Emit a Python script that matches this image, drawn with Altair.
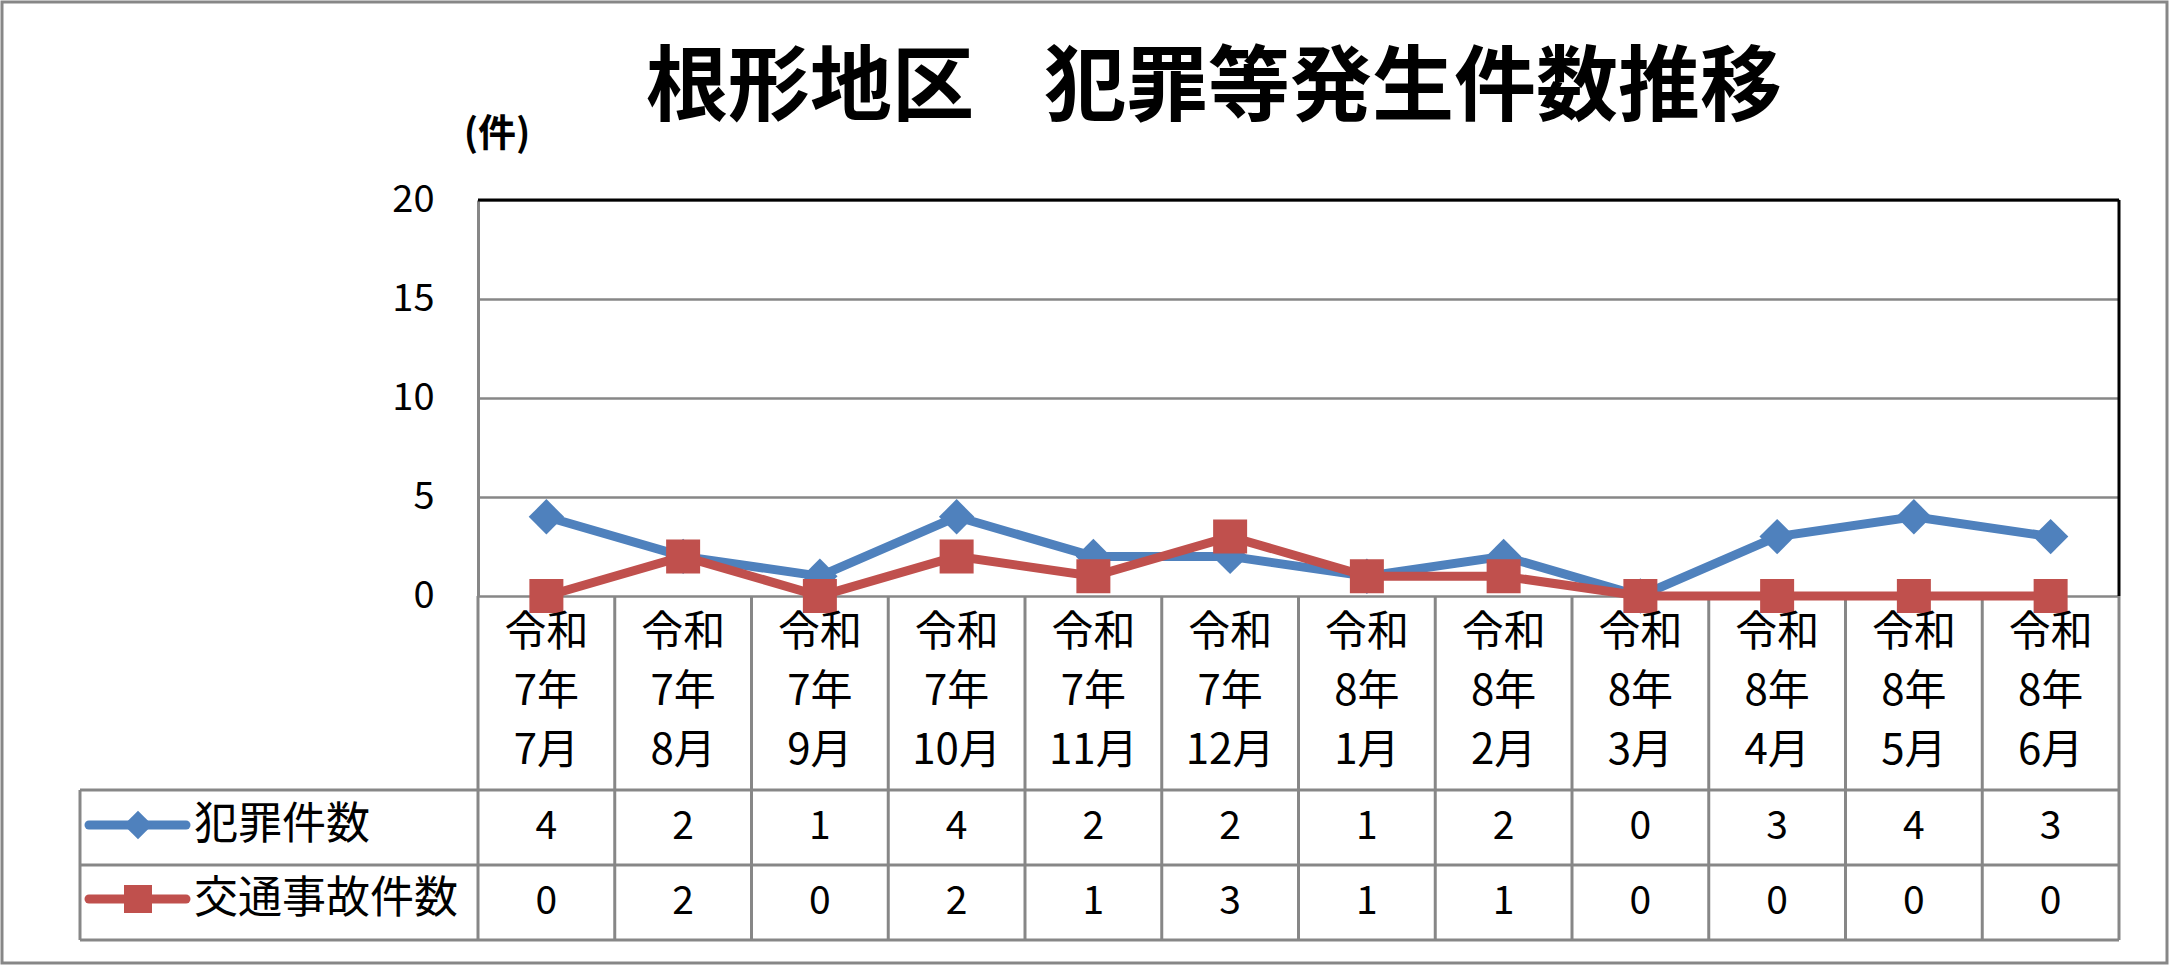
import altair as alt
import pandas as pd

# ---- data ----
categories = ["令和\n7年\n7月", "令和\n7年\n8月", "令和\n7年\n9月", "令和\n7年\n10月",
              "令和\n7年\n11月", "令和\n7年\n12月", "令和\n8年\n1月", "令和\n8年\n2月",
              "令和\n8年\n3月", "令和\n8年\n4月", "令和\n8年\n5月", "令和\n8年\n6月"]
crime = [4, 2, 1, 4, 2, 2, 1, 2, 0, 3, 4, 3]
traffic = [0, 2, 0, 2, 1, 3, 1, 1, 0, 0, 0, 0]
series_names = ["犯罪件数", "交通事故件数"]
series_colors = ["#4F81BD", "#C0504D"]
y_ticks = [0, 5, 10, 15, 20]
title_parts = ["根形地区", "犯罪等発生件数推移"]
unit_text = "(件)"

FONT = "Noto Sans CJK JP"
GRAY = "#878787"
W, H = 1641, 396
ROW1, ROW2, TBOT = 590, 665, 740

df = pd.DataFrame({"idx": list(range(len(categories))), "cat": categories,
                   "crime": crime, "traffic": traffic})
one = pd.DataFrame({"a": [0]})

xs = alt.Scale(domain=[-0.5, len(categories) - 0.5], nice=False, zero=False)
X = alt.X("idx:Q", scale=xs, axis=None)
ys = alt.Scale(domain=[0, 20], nice=False)

base = alt.Chart(df)

# y axis + grid (invisible carrier layer)
axis_layer = base.mark_point(opacity=0).encode(
    x=X,
    y=alt.Y("crime:Q", scale=ys,
            axis=alt.Axis(values=y_ticks, title=None, labelFontSize=38, labelFont=FONT,
                          labelColor="black", labelPadding=44, ticks=False,
                          domainColor=GRAY, domainWidth=3, gridColor=GRAY, gridWidth=2.5,
                          gridOpacity=1)),
)

# plot frame: top and right black
top_rule = alt.Chart(one).mark_rule(color="black", strokeWidth=3).encode(
    x=alt.value(0), x2=alt.value(W), y=alt.value(0))
right_rule = alt.Chart(one).mark_rule(color="black", strokeWidth=3).encode(
    x=alt.value(W), y=alt.value(0), y2=alt.value(H))

# table grid
vlines = base.transform_calculate(b="datum.idx - 0.5").mark_rule(
    color=GRAY, strokeWidth=3).encode(
    x=alt.X("b:Q", scale=xs, axis=None), y=alt.value(H), y2=alt.value(TBOT))
vright = alt.Chart(one).mark_rule(color=GRAY, strokeWidth=3).encode(
    x=alt.value(W), y=alt.value(H), y2=alt.value(TBOT))
vleft = alt.Chart(one).mark_rule(color=GRAY, strokeWidth=3).encode(
    x=alt.value(-398), y=alt.value(ROW1), y2=alt.value(TBOT))
hlines = [alt.Chart(one).mark_rule(color=GRAY, strokeWidth=3).encode(
    x=alt.value(-398), x2=alt.value(W), y=alt.value(v)) for v in (ROW1, ROW2, TBOT)]

# series lines and markers
def series_layers(field, color, shape, size):
    ln = base.mark_line(color=color, strokeWidth=9).encode(
        x=X, y=alt.Y(f"{field}:Q", scale=ys))
    pt = base.mark_point(color=color, shape=shape, size=size, filled=True,
                         opacity=1, strokeWidth=0).encode(
        x=X, y=alt.Y(f"{field}:Q", scale=ys))
    return [ln, pt]

lines = series_layers("crime", series_colors[0], "diamond", 1250) + \
        series_layers("traffic", series_colors[1], "square", 1156)

# category labels (first line centred at y, following lines below)
cat_text = base.mark_text(font=FONT, fontSize=42, lineBreak="\n", lineHeight=59,
                          baseline="middle", align="center", color="black").encode(
    x=X, y=alt.value(433), text="cat:N")

# table values
val1 = base.mark_text(font=FONT, fontSize=39, baseline="middle", color="black").encode(
    x=X, y=alt.value(627), text="crime:Q")
val2 = base.mark_text(font=FONT, fontSize=39, baseline="middle", color="black").encode(
    x=X, y=alt.value(702), text="traffic:Q")

# row labels with legend keys
def row_key(name, color, shape, size, yc):
    ln = alt.Chart(one).mark_rule(color=color, strokeWidth=9, strokeCap="round").encode(
        x=alt.value(-389), x2=alt.value(-292), y=alt.value(yc))
    pt = alt.Chart(one).mark_point(color=color, shape=shape, size=size, filled=True,
                                   opacity=1, strokeWidth=0).encode(
        x=alt.value(-340), y=alt.value(yc))
    tx = alt.Chart(one).mark_text(font=FONT, fontSize=44, align="left", baseline="middle",
                                  color="black", text=name).encode(
        x=alt.value(-284), y=alt.value(yc + 1))
    return [ln, pt, tx]

keys = row_key(series_names[0], series_colors[0], "diamond", 820, 625) + \
       row_key(series_names[1], series_colors[1], "square", 784, 699)

# title (two parts) and unit
title_l = alt.Chart(one).mark_text(font=FONT, fontSize=82, fontWeight="bold", align="left",
                                   baseline="middle", color="black", text=title_parts[0]).encode(
    x=alt.value(168), y=alt.value(-111))
title_r = alt.Chart(one).mark_text(font=FONT, fontSize=82, fontWeight="bold", align="left",
                                   baseline="middle", color="black", text=title_parts[1]).encode(
    x=alt.value(566), y=alt.value(-111))
unit = alt.Chart(one).mark_text(font=FONT, fontSize=38, fontWeight="bold", align="center",
                                baseline="middle", color="black", text=unit_text).encode(
    x=alt.value(19), y=alt.value(-65))

# outer border
border = alt.Chart(one).mark_rect(filled=False, stroke=GRAY, strokeWidth=3).encode(
    x=alt.value(-476), x2=alt.value(W + 48), y=alt.value(-198), y2=alt.value(H + 367))

chart = alt.layer(
    border, axis_layer, vlines, vright, vleft, *hlines, top_rule, right_rule,
    *lines, cat_text, val1, val2, *keys, title_l, title_r, unit
).properties(
    width=W, height=H,
    autosize=alt.AutoSizeParams(type="none"),
    padding={"left": 478, "top": 200, "right": 52, "bottom": 369},
    background="white",
).configure_view(stroke=None)

chart.save("out.html", embed_options={"renderer": "svg", "actions": False})
